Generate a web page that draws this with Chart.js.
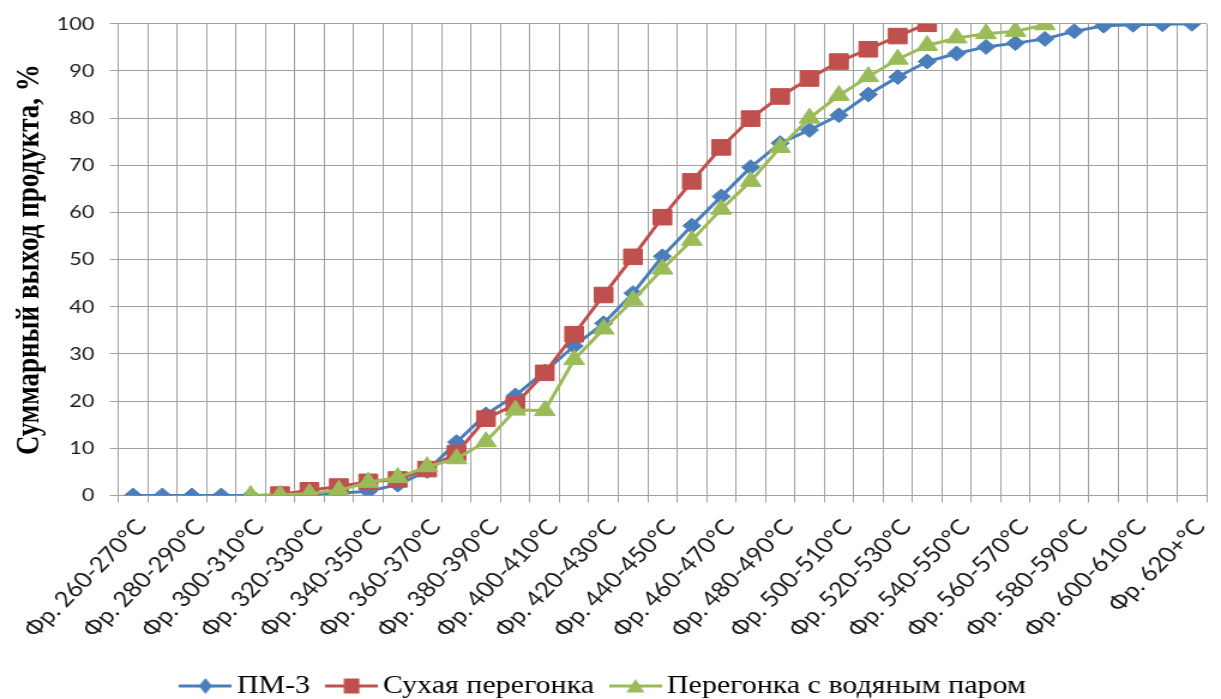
<!DOCTYPE html>
<html>
<head>
<meta charset="utf-8">
<script src="https://cdn.jsdelivr.net/npm/chart.js@4.4.1/dist/chart.umd.min.js"></script>
<style>
  html, body { margin: 0; padding: 0; background: #fff; overflow: hidden; }
  /* the chart is laid out narrow and widened horizontally */
  #wrap { width: 1018px; height: 699px; transform: scaleX(1.1994); transform-origin: 0 0; }
</style>
</head>
<body>
<div id="wrap"><canvas id="chart" width="1018" height="699"></canvas></div>
<script>
// Fractions (boiling ranges)
const categories = [
  'Фр. 260-270°C', 'Фр. 270-280°C', 'Фр. 280-290°C', 'Фр. 290-300°C', 'Фр. 300-310°C',
  'Фр. 310-320°C', 'Фр. 320-330°C', 'Фр. 330-340°C', 'Фр. 340-350°C', 'Фр. 350-360°C',
  'Фр. 360-370°C', 'Фр. 370-380°C', 'Фр. 380-390°C', 'Фр. 390-400°C', 'Фр. 400-410°C',
  'Фр. 410-420°C', 'Фр. 420-430°C', 'Фр. 430-440°C', 'Фр. 440-450°C', 'Фр. 450-460°C',
  'Фр. 460-470°C', 'Фр. 470-480°C', 'Фр. 480-490°C', 'Фр. 490-500°C', 'Фр. 500-510°C',
  'Фр. 510-520°C', 'Фр. 520-530°C', 'Фр. 530-540°C', 'Фр. 540-550°C', 'Фр. 550-560°C',
  'Фр. 560-570°C', 'Фр. 570-580°C', 'Фр. 580-590°C', 'Фр. 590-600°C', 'Фр. 600-610°C',
  'Фр. 610-620°C', 'Фр. 620+°C'
];

// Cumulative product yield, %
const pm3 = [
  0, 0, 0, 0, 0, 0.1, 0.3, 0.5, 0.9, 2.3,
  5.2, 11.3, 17.2, 21.2, 26.3, 31.7, 36.5, 42.9, 50.7, 57.2,
  63.4, 69.6, 74.7, 77.5, 80.6, 85.0, 88.7, 92.0, 93.7, 95.1,
  95.9, 96.8, 98.4, 99.6, 99.8, 99.9, 100
];
const dryDistillation = [
  null, null, null, null, null, 0.2, 1.1, 1.9, 2.9, 3.4,
  5.6, 9.0, 16.3, 19.3, 26.0, 34.2, 42.5, 50.6, 59.0, 66.6,
  73.8, 79.9, 84.6, 88.4, 92.0, 94.6, 97.4, 100, null, null,
  null, null, null, null, null, null, null
];
const steamDistillation = [
  null, null, null, null, 0, 0.1, 0.4, 1.1, 2.8, 3.8,
  6.1, 7.8, 11.4, 18.1, 18.0, 28.8, 35.3, 41.4, 48.0, 54.1,
  60.7, 66.6, 73.8, 80.0, 84.8, 88.8, 92.5, 95.4, 97.0, 97.9,
  98.4, 99.8, null, null, null, null, null
];

const seriesNames = ['ПМ-3', 'Сухая перегонка', 'Перегонка с водяным паром'];
const yTicks = [0, 10, 20, 30, 40, 50, 60, 70, 80, 90, 100];
const yTitle = 'Суммарный выход продукта, %';

const BLUE = '#4A7EBB';
const RED = '#C0504D';
const GREEN = '#9BBB59';
const GRID = '#a0a0a0';

// Legend key: a short line with the series marker in its middle
function legendKey(color, marker) {
  const c = document.createElement('canvas');
  c.width = 44; c.height = 22;
  const g = c.getContext('2d');
  g.strokeStyle = color;
  g.fillStyle = color;
  g.lineWidth = 3;
  g.beginPath(); g.moveTo(0, 11); g.lineTo(44, 11); g.stroke();
  g.beginPath();
  if (marker === 'diamond') {
    g.moveTo(22, 3); g.lineTo(27.5, 11); g.lineTo(22, 19); g.lineTo(16.5, 11);
  } else if (marker === 'square') {
    g.rect(15.5, 3.5, 13, 15);
  } else {
    g.moveTo(22, 4); g.lineTo(29.5, 17.5); g.lineTo(14.5, 17.5);
  }
  g.closePath(); g.fill();
  return c;
}
const legendKeys = [legendKey(BLUE, 'diamond'), legendKey(RED, 'square'), legendKey(GREEN, 'triangle')];

// nudges the centred legend row a little to the left
const legendNudge = {
  id: 'legendNudge',
  afterLayout(chart) {
    const lg = chart.legend;
    if (lg) { lg.left -= 4; lg.right -= 4; }
  }
};

new Chart(document.getElementById('chart'), {
  type: 'line',
  data: {
    labels: categories,
    datasets: [
      {
        label: seriesNames[0], data: pm3, order: 2,
        borderColor: BLUE, backgroundColor: BLUE, borderWidth: 3,
        pointStyle: 'rectRot', pointRadius: 7.5, pointBorderWidth: 1,
        pointBackgroundColor: BLUE, pointBorderColor: BLUE
      },
      {
        label: seriesNames[1], data: dryDistillation, order: 1,
        borderColor: RED, backgroundColor: RED, borderWidth: 3,
        pointStyle: 'rect', pointRadius: 11, pointBorderWidth: 1,
        pointBackgroundColor: RED, pointBorderColor: RED
      },
      {
        label: seriesNames[2], data: steamDistillation, order: 0,
        borderColor: GREEN, backgroundColor: GREEN, borderWidth: 3,
        pointStyle: 'triangle', pointRadius: 10, pointBorderWidth: 1,
        pointBackgroundColor: GREEN, pointBorderColor: GREEN
      }
    ]
  },
  plugins: [legendNudge],
  options: {
    responsive: false,
    animation: false,
    devicePixelRatio: 1,
    events: [],
    layout: { padding: { left: 5, right: 2, top: 22, bottom: 0 } },
    elements: { line: { tension: 0 } },
    scales: {
      x: {
        type: 'category',
        offset: true,
        grid: { offset: true, color: GRID, lineWidth: 1, drawTicks: true, tickLength: 7, tickColor: GRID },
        border: { color: GRID, width: 1 },
        ticks: {
          autoSkip: false,
          minRotation: 50,
          maxRotation: 50,
          padding: 12,
          labelOffset: 7,
          color: '#1a1a1a',
          font: { family: 'Lato', size: 21.5 },
          callback: function (value, index) {
            return index % 2 === 0 ? this.getLabelForValue(value) : '';
          }
        },
        afterFit: function (scale) {
          scale.height = 157.2;
          scale.paddingLeft = 0;
          scale.paddingRight = 0;
        }
      },
      y: {
        min: 0,
        max: 100,
        afterBuildTicks: function (scale) {
          scale.ticks = yTicks.map(v => ({ value: v }));
        },
        grid: { color: GRID, lineWidth: 1, drawTicks: true, tickLength: 7, tickColor: GRID },
        border: { color: GRID, width: 1 },
        ticks: { padding: 13, color: '#1a1a1a', font: { family: 'Lato', size: 18 } },
        title: {
          display: true,
          text: yTitle,
          color: '#000',
          padding: { top: 4, bottom: 4 },
          font: { family: 'Liberation Serif', size: 27, weight: 'bold' }
        },
        afterFit: function (scale) {
          scale.width = 93.6;
        }
      }
    },
    plugins: {
      tooltip: { enabled: false },
      legend: {
        display: true,
        position: 'bottom',
        maxHeight: 46.3,
        labels: {
          usePointStyle: true,
          pointStyleWidth: 27.4,
          padding: 20.8,
          color: '#000',
          font: { family: 'Liberation Serif', size: 25 },
          sort: (a, b) => a.datasetIndex - b.datasetIndex,
          generateLabels: function (chart) {
            const items = Chart.defaults.plugins.legend.labels.generateLabels(chart);
            items.forEach(it => { it.pointStyle = legendKeys[it.datasetIndex]; });
            return items;
          }
        }
      }
    }
  }
});
</script>
</body>
</html>
